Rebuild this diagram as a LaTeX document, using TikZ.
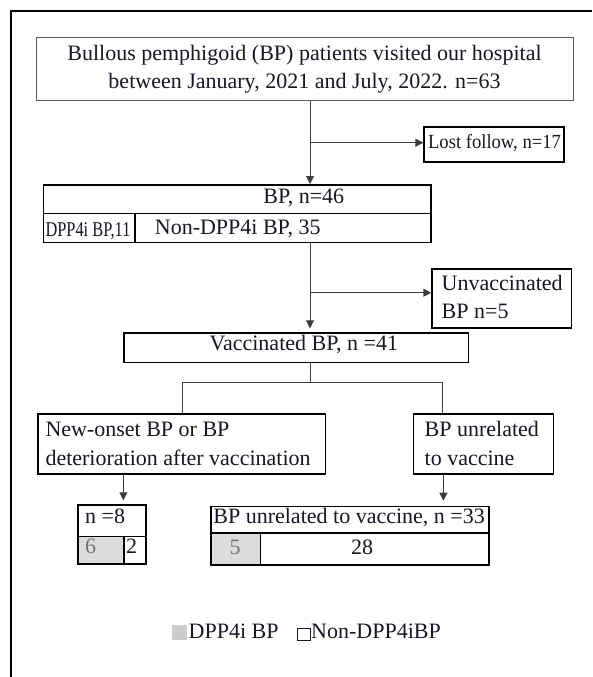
\documentclass[tikz,border=0pt]{standalone}
\usepackage{fontspec}
\setmainfont{Liberation Serif}
\newfontfamily\condfont[FakeStretch=0.78]{Liberation Serif}
\newfontfamily\semifont[FakeStretch=0.93]{Liberation Serif}
\usetikzlibrary{arrows.meta}
\definecolor{ink}{RGB}{22,22,38}
\definecolor{cellgray}{RGB}{220,220,220}
\definecolor{leggray}{RGB}{204,204,204}
\definecolor{connc}{RGB}{60,60,60}
\newcommand\fsmain{\fontsize{22pt}{28.4pt}\selectfont}
\begin{document}
\begin{tikzpicture}[x=1pt,y=-1pt,
  box/.style={draw=black, line width=1.6pt, inner sep=0pt, anchor=north west},
  thinbox/.style={draw=black!65, line width=1pt, inner sep=0pt, anchor=north west},
  graycell/.style={box, fill=cellgray},
  conn/.style={draw=connc, line width=1pt},
  arr/.style={conn, -{Triangle[length=8pt,width=8pt]}},
  txt/.style={font=\fsmain, text=ink, inner sep=0pt, anchor=base west},
  ctxt/.style={txt, anchor=base},
  gtxt/.style={ctxt, text=black!55}]
\useasboundingbox (0,0) rectangle (592,677);
% frame
\draw[line width=1.6pt] (11,677) -- (11,11) -- (592,11);
% top box
\node[thinbox, minimum width=537pt, minimum height=63pt] (top) at (36,37) {};
\node[ctxt] (t1) at (304.5,60.5) {Bullous pemphigoid (BP) patients visited our hospital};
\node[ctxt] (t2) at (304.5,88.5) {between January, 2021 and July, 2022. n=63};
% lost follow
\node[box, minimum width=140pt, minimum height=35pt] (lost) at (423.4,126) {};
\node[ctxt, font=\semifont\fontsize{20pt}{24pt}\selectfont] (tlost) at (494.5,148.5) {Lost follow, n=17};
% BP n=46
\node[box, minimum width=387.6pt, minimum height=28.5pt] (bpa) at (42.6,184) {};
\node[box, minimum width=91.5pt, minimum height=29.2pt] (bpl) at (42.6,212.5) {};
\node[box, minimum width=296.1pt, minimum height=29.2pt] (bpr) at (134.1,212.5) {};
\node[ctxt] (tbpa) at (303.8,203.5) {BP, n=46};
\node[ctxt, font=\condfont\fontsize{21pt}{24pt}\selectfont] (tbpl) at (88,236) {DPP4i BP,11};
\node[txt] (tbpr) at (154.7,234) {Non-DPP4i BP, 35};
% unvaccinated
\node[box, line width=1.3pt, minimum width=139.7pt, minimum height=59pt] (unvac) at (431.3,268.3) {};
\node[txt] (tun1) at (441.5,290.5) {Unvaccinated};
\node[txt] (tun2) at (441.5,318.2) {BP n=5};
% vaccinated
\node[box, line width=1.3pt, minimum width=344.6pt, minimum height=29.4pt] (vacc) at (123.4,332.3) {};
\node[ctxt] (tvacc) at (303.8,350.5) {Vaccinated BP, n =41};
% second level
\node[box, minimum width=287.5pt, minimum height=60pt] (newon) at (37,413.3) {};
\node[txt] (tn1) at (45.3,436.5) {New-onset BP or BP};
\node[txt] (tn2) at (45.3,465) {deterioration after vaccination};
\node[box, minimum width=140.3pt, minimum height=60pt] (unrel) at (412.5,413.3) {};
\node[txt] (tu1) at (424.5,436.5) {BP unrelated};
\node[txt] (tu2) at (424.5,465) {to vaccine};
% n=8
\node[box, minimum width=68pt, minimum height=31.5pt] (n8a) at (77.3,504.3) {};
\node[graycell, minimum width=46pt, minimum height=27.7pt] (n8l) at (77.3,535.7) {};
\node[box, minimum width=21.7pt, minimum height=27.7pt] (n8r) at (123.3,535.7) {};
\node[txt] (tn8) at (85,523.3) {n =8};
\node[gtxt] (tn8l) at (90.5,553) {6};
\node[ctxt] (tn8r) at (131.5,553) {2};
% BP unrelated n=33
\node[box, minimum width=277.8pt, minimum height=26.6pt] (u33a) at (210.2,505.7) {};
\node[graycell, minimum width=49.4pt, minimum height=31.7pt] (u33l) at (210.2,532.3) {};
\node[box, minimum width=228.4pt, minimum height=31.7pt] (u33r) at (259.6,532.3) {};
\node[ctxt] (tu33) at (349.1,523) {BP unrelated to vaccine, n =33};
\node[gtxt] (tu33l) at (235,554) {5};
\node[ctxt] (tu33r) at (362,554) {28};
% legend
\node[inner sep=0pt, fill=leggray, minimum width=15pt, minimum height=15pt, anchor=north west] (lg1) at (171.7,625) {};
\node[txt] (tlg1) at (188.5,638.5) {DPP4i BP};
\node[draw=ink, line width=0.8pt, inner sep=0pt, minimum width=13pt, minimum height=12.5pt, anchor=north west] (lg2) at (297,627.5) {};
\node[txt] (tlg2) at (311,638.5) {Non-DPP4iBP};
% connectors
\coordinate (vx) at (310,0);
\coordinate (j1) at (310,142.7);
\coordinate (j2) at (310,292.7);
\coordinate (j3) at (310,382.7);
\coordinate (jl) at (182.3,382.7);
\coordinate (jr) at (442.3,382.7);
\coordinate (al) at (123.4,0);
\coordinate (ar) at (443.4,0);
\draw[arr] (top.south -| vx) -- (bpa.north -| vx);
\draw[arr] (j1) -- (j1 -| lost.west);
\draw[arr, shorten >=4pt] (bpr.south -| vx) -- (vacc.north -| vx);
\draw[arr] (j2) -- (j2 -| unvac.west);
\draw[conn] (vacc.south -| vx) -- (j3);
\draw[conn] (newon.north -| jl) -- (jl) -- (jr) -- (unrel.north -| jr);
\draw[arr, shorten >=4pt] (newon.south -| al) -- (n8a.north -| al);
\draw[arr, shorten >=5pt] (unrel.south -| ar) -- (u33a.north -| ar);
\end{tikzpicture}
\end{document}
